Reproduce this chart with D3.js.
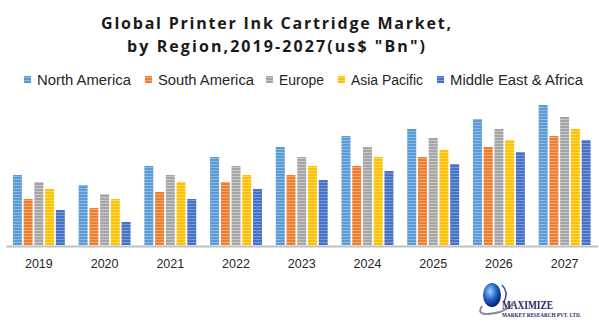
<!DOCTYPE html>
<html>
<head>
<meta charset="utf-8">
<script src="https://cdn.jsdelivr.net/npm/d3@7"></script>
<style>
html,body{margin:0;padding:0;background:#fff;}
svg{display:block;}
</style>
</head>
<body>
<script>
const years = ["2019","2020","2021","2022","2023","2024","2025","2026","2027"];
const seriesNames = ["North America","South America","Europe","Asia Pacific","Middle East & Africa"];
const northAmerica = [7.0, 6.0, 7.9, 8.8, 9.8, 10.9, 11.6, 12.6, 14.0];
const southAmerica = [4.6, 3.7, 5.3, 6.3, 7.0, 7.9, 8.8, 9.8, 10.9];
const europe       = [6.3, 5.1, 7.0, 7.9, 8.8, 9.8, 10.7, 11.6, 12.8];
const asiaPacific  = [5.6, 4.6, 6.3, 7.0, 7.9, 8.8, 9.5, 10.5, 11.6];
const meaValues    = [3.5, 2.3, 4.6, 5.6, 6.5, 7.4, 8.1, 9.3, 10.5];
const seriesValues = [northAmerica, southAmerica, europe, asiaPacific, meaValues];
const colors = ["#5B9BD5","#ED7D31","#A5A5A5","#FFC000","#4472C4"];
const stripes = ["#8DBBE6","#F4A872","#C9C9C9","#FFD966","#7C9ADB"];

const W = 599, H = 325;
const svg = d3.select("body").append("svg").attr("width", W).attr("height", H);
const defs = svg.append("defs");
colors.forEach((c, i) => {
  const p = defs.append("pattern").attr("id", "pat" + i)
    .attr("patternUnits", "userSpaceOnUse").attr("width", 4).attr("height", 3);
  p.append("rect").attr("width", 4).attr("height", 3).attr("fill", c);
  p.append("rect").attr("y", 2).attr("width", 4).attr("height", 1).attr("fill", stripes[i]);
});

// Title
const title = svg.append("g").attr("font-family", "'Open Sans', 'DejaVu Sans', sans-serif")
  .attr("font-weight", "bold").attr("font-size", 16).attr("fill", "#1a1a1a").attr("text-anchor", "start");
title.append("text").attr("x", 101).attr("y", 29).attr("textLength", 350).attr("lengthAdjust", "spacing")
  .text("Global Printer Ink Cartridge Market,");
title.append("text").attr("x", 127).attr("y", 52).attr("textLength", 298).attr("lengthAdjust", "spacing")
  .text("by Region,2019-2027(us$ \"Bn\")");

// Legend
const legendX = [24, 145, 266, 338, 437];
const legendTextW = [94, 96, 45, 72, 133];
const lg = svg.append("g");
seriesNames.forEach((n, i) => {
  lg.append("rect").attr("x", legendX[i]).attr("y", 76).attr("width", 7).attr("height", 7).attr("fill", "url(#pat" + i + ")");
  lg.append("text").attr("x", legendX[i] + 13).attr("y", 84.5)
    .attr("font-family", "'Liberation Sans', Arial, sans-serif").attr("font-size", 14).attr("fill", "#262626")
    .attr("textLength", legendTextW[i]).attr("lengthAdjust", "spacingAndGlyphs")
    .text(n);
});

// Scales
const x0 = d3.scaleBand().domain(years).range([6, 597.5]).paddingInner(0.21).paddingOuter(0.105);
const x1 = d3.scaleBand().domain(seriesNames).range([0, x0.bandwidth()]).paddingInner(0.163).paddingOuter(0);
const y = d3.scaleLinear().domain([0, 14]).range([245, 105]);

const groups = svg.append("g").selectAll("g").data(years).join("g")
  .attr("transform", d => `translate(${x0(d)},0)`);
groups.selectAll("rect").data((d, yi) => seriesNames.map((s, si) => ({s, si, v: seriesValues[si][yi]})))
  .join("rect")
  .attr("x", d => x1(d.s))
  .attr("width", x1.bandwidth())
  .attr("y", d => y(d.v))
  .attr("height", d => y(0) - y(d.v))
  .attr("fill", d => "url(#pat" + d.si + ")");

// Axis
const xAxis = d3.axisBottom(d3.scaleBand().domain(years).range([6, 597.5])).tickSize(0).tickPadding(13);
const ax = svg.append("g").attr("transform", "translate(0,246)").call(xAxis);
ax.select(".domain").attr("stroke", "#BFBFBF").attr("stroke-width", 2);
ax.selectAll("text").attr("font-family", "'Liberation Sans', Arial, sans-serif").attr("font-size", 12.5).attr("fill", "#262626");

// Logo
const logo = svg.append("g");
const grad = defs.append("radialGradient").attr("id", "globe").attr("cx", "40%").attr("cy", "35%").attr("r", "65%");
grad.append("stop").attr("offset", "0%").attr("stop-color", "#9fd3ff");
grad.append("stop").attr("offset", "55%").attr("stop-color", "#1e63c9");
grad.append("stop").attr("offset", "100%").attr("stop-color", "#0b1f6e");
logo.append("path").attr("d", "M482,306 Q474,318 500,312 Q514,306 512,302").attr("fill", "none").attr("stroke", "#8a8a9a").attr("stroke-width", 2);
logo.append("ellipse").attr("cx", 492).attr("cy", 295).attr("rx", 9).attr("ry", 12).attr("fill", "url(#globe)");
logo.append("path").attr("d", "M502,285 Q509,292 504,302").attr("fill", "none").attr("stroke", "#3a4a9a").attr("stroke-width", 1.5);
logo.append("text").attr("x", 502).attr("y", 309).attr("font-family", "'Liberation Serif', 'DejaVu Serif', serif")
  .attr("font-weight", "bold").attr("font-size", 12).attr("fill", "#1f2a6b")
  .attr("textLength", 51).attr("lengthAdjust", "spacingAndGlyphs").text("MAXIMIZE");
logo.append("text").attr("x", 502).attr("y", 317).attr("font-family", "'Liberation Serif', 'DejaVu Serif', serif")
  .attr("font-weight", "bold").attr("font-size", 6).attr("fill", "#1f2a6b")
  .attr("textLength", 79).attr("lengthAdjust", "spacingAndGlyphs").text("MARKET RESEARCH PVT. LTD.");
</script>
</body>
</html>
